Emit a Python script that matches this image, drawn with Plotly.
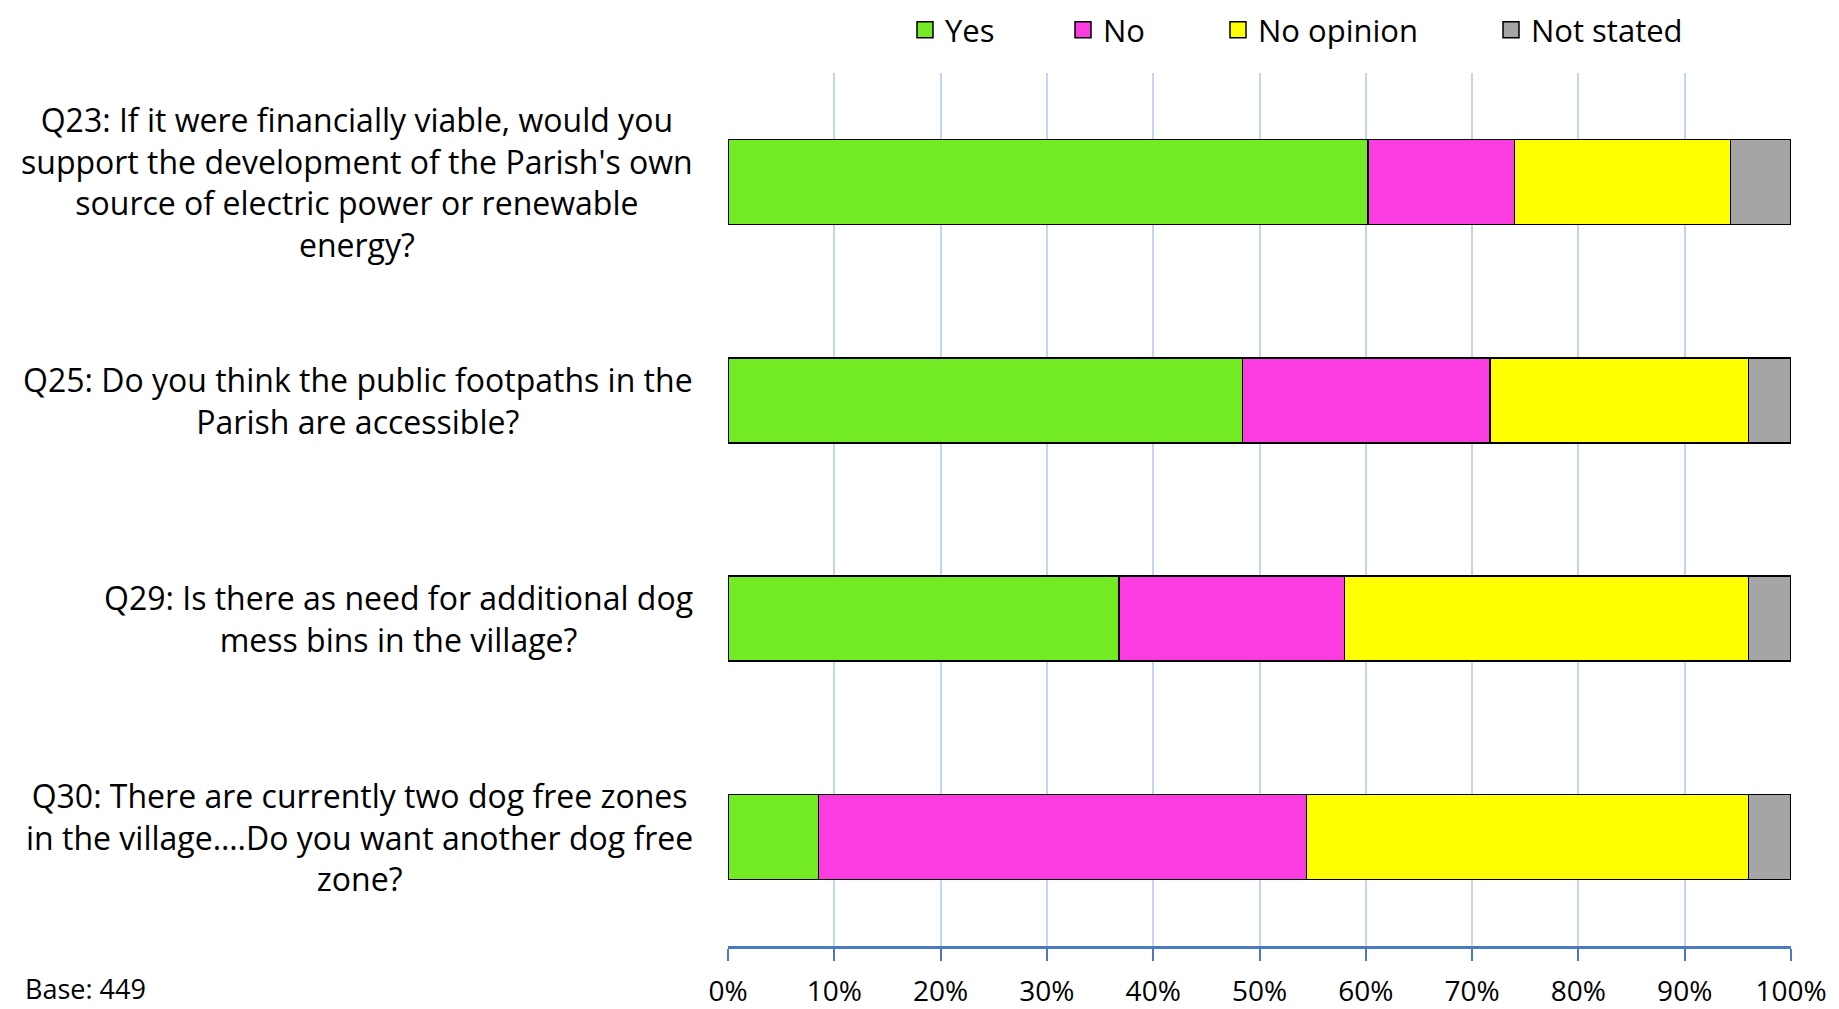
import plotly.graph_objects as go

categories = [
    "Q23: If it were financially viable, would you<br>support the development of the Parish's own<br>source of electric power or renewable<br>energy?",
    "Q25: Do you think the public footpaths in the<br>Parish are accessible?",
    "Q29: Is there as need for additional dog<br>mess bins in the village?",
    "Q30: There are currently two dog free zones<br>in the village….Do you want another dog free<br>zone?",
]
cat_ids = ["Q23", "Q25", "Q29", "Q30"]
yes = [60.2, 48.4, 36.8, 8.5]
no = [13.8, 23.3, 21.2, 45.9]
no_opinion = [20.3, 24.3, 38.0, 41.6]
not_stated = [5.7, 4.0, 4.0, 4.0]
series_names = ["Yes", "No", "No opinion", "Not stated"]
series_colors = ["#72EB24", "#FA3CE0", "#FFFF00", "#A5A5A5"]
x_ticks = [0, 10, 20, 30, 40, 50, 60, 70, 80, 90, 100]
x_tick_labels = [f"{t}%" for t in x_ticks]

FONT = "Open Sans"
# page body has an 8px margin, so the figure is placed at (8, 8)
OFF = 8
W, H = 1839 - OFF, 1009 - OFF
ML, MR, MT, MB = 728 - OFF, 48, 73 - OFF, 63
PW = W - ML - MR
PH = H - MT - MB

# legend entry left positions (screen px) and vertical centre
legend_px = [905, 1063, 1218, 1491]
legend_py = 30

fig = go.Figure()
legend_ids = ["legend", "legend2", "legend3", "legend4"]
for name, vals, col, lid in zip(series_names, [yes, no, no_opinion, not_stated], series_colors, legend_ids):
    fig.add_trace(go.Bar(
        y=cat_ids, x=vals, name=name, orientation="h",
        marker=dict(color=col, line=dict(color="black", width=1.5)),
        width=0.39, showlegend=False, legendgroup=name,
    ))
    fig.add_trace(go.Scatter(
        x=[None], y=[None], mode="markers", name=name, legend=lid, legendgroup=name,
        marker=dict(symbol="square", size=16, color=col, line=dict(color="black", width=1.5)),
        showlegend=True, hoverinfo="skip",
    ))

for cid, label in zip(cat_ids, categories):
    fig.add_annotation(
        x=0, xref="paper", y=cid, yref="y", text=label, showarrow=False,
        xanchor="right", yanchor="middle", align="center", xshift=-33,
        font=dict(family=FONT, size=32, color="black"),
    )

fig.add_annotation(
    x=0, xref="paper", y=0, yref="paper", text="Base: 449", showarrow=False,
    xanchor="left", yanchor="middle", xshift=(26 - OFF) - ML - 3, yshift=-(988 - OFF - (H - MB)),
    font=dict(family=FONT, size=27, color="black"),
)

legend_layout = {}
for lid, px in zip(legend_ids, legend_px):
    legend_layout[lid] = dict(
        orientation="h", x=(px - OFF - ML) / PW, xanchor="left",
        y=(H - MB - (legend_py - OFF)) / PH, yanchor="middle",
        font=dict(family=FONT, size=31, color="black"),
        bgcolor="rgba(0,0,0,0)", borderwidth=0, itemsizing="trace",
    )

fig.update_layout(
    width=W, height=H,
    margin=dict(l=ML, r=MR, t=MT, b=MB, autoexpand=False),
    paper_bgcolor="white", plot_bgcolor="white",
    barmode="stack",
    showlegend=True,
    font=dict(family=FONT, size=26, color="black"),
    **legend_layout,
)
fig.update_xaxes(
    range=[0, 100], tickvals=x_ticks, ticktext=x_tick_labels,
    showgrid=True, gridcolor="#C4D5F0", gridwidth=1.5,
    showline=True, linecolor="#4A7AC4", linewidth=2.5,
    ticks="outside", ticklen=12, tickcolor="#4A7AC4", tickwidth=1.5,
    ticklabelstandoff=7,
    tickfont=dict(family=FONT, size=28, color="black"),
    zeroline=False, fixedrange=True,
)
fig.update_yaxes(
    autorange="reversed", showticklabels=False, showgrid=False, showline=False,
    categoryorder="array", categoryarray=cat_ids, fixedrange=True,
)
fig.write_html("out.html")
